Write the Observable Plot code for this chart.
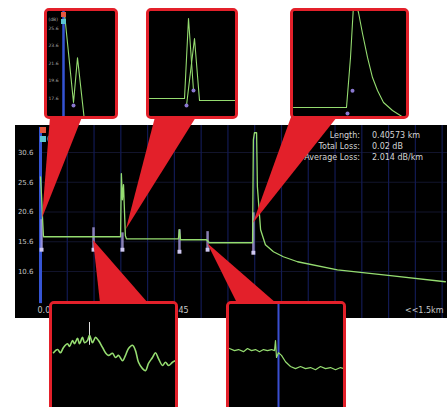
<!DOCTYPE html>
<html><head><meta charset="utf-8">
<script src="https://cdn.jsdelivr.net/npm/d3@7"></script>
<script src="https://cdn.jsdelivr.net/npm/@observablehq/plot@0.6"></script>
<style>
html,body{margin:0;padding:0;background:#fff;}
#root{position:relative;width:447px;height:407px;overflow:hidden;background:#fff;font-family:"DejaVu Sans",sans-serif;}
.inset{position:absolute;box-sizing:border-box;border:3px solid #e3202a;border-radius:5px;background:#000;overflow:hidden;z-index:3;}
.inset svg{display:block;}
.txt{position:absolute;color:#d4d4d4;font-size:8px;line-height:11px;z-index:1;white-space:nowrap;}
.sq{position:absolute;z-index:4;}
</style></head>
<body><div id="root"></div>
<script>
// ---------------- data ----------------
// main OTDR trace: distance (km) and level (dB)
const traceKm = [0.000,0.0037,0.0075,0.0112,0.295,0.299,0.302,0.306,0.310,0.317,0.321,0.515,0.519,0.523,0.620,0.631,0.792,0.795,0.799,0.807,0.810,0.822,0.840,0.870,0.907,0.960,1.109,1.307,1.512];
const traceDb = [26.52,23.50,19.63,16.44,16.44,16.44,27.03,22.66,25.18,16.61,16.10,16.10,17.62,15.94,15.94,15.43,15.43,32.74,33.92,33.92,24.84,17.62,15.10,13.92,13.08,12.24,10.89,9.89,8.88];
// event markers
const eventKm = [0.004, 0.198, 0.306, 0.519, 0.624, 0.795];
const eventTopDb = [19.3, 17.95, 17.1, 17.62, 17.3, 20.47];
const eventBottomDb = [14.26, 14.26, 14.26, 13.92, 14.26, 13.75];
// axes
const yTicks = [10.6, 15.6, 20.6, 25.6, 30.6];
const gridKm = [0.1,0.2,0.3,0.4,0.5,0.6,0.7,0.8,0.9,1.0,1.1,1.2,1.3,1.4,1.5];
const xLabelKm = [0, 0.553];
const xLabelText = ["0.0", "0.545"];
const rangeText = "<<1.5km";
// summary
const summaryLabels = ["Length:", "Total Loss:", "Average Loss:"];
const summaryValues = ["0.40573 km", "0.02 dB", "2.014 dB/km"];

// inset 1: launch (metres, dB)
const in1M = [1, 10, 14, 21];
const in1Db = [27.3, 17.1, 22.2, 15.0];
const in1Ticks = [17.6, 19.6, 21.6, 23.6, 25.6];
const in1DotM = [10];
const in1DotDb = [16.76];
// inset 2: double reflection (two overlaid traces)
const in2M = [0, 35, 39, 44, 37, 45, 50, 86];
const in2Db = [17.23, 17.23, 27.13, 18.22, 16.36, 24.66, 16.99, 16.99];
const in2Series = ["a","a","a","a","b","b","b","b"];
const in2DotM = [37, 44];
const in2DotDb = [16.36, 18.22];
// inset 3: fiber end reflection
const in3M = [0, 53, 57, 60, 63, 65, 69, 74, 79, 84, 90, 99, 110, 113];
const in3Db = [14.06, 14.06, 25.5, 37.4, 37.4, 35.77, 30.97, 25.49, 20.91, 17.94, 15.2, 13.37, 11.77, 11.5];
const in3DotM = [59, 54];
const in3DotDb = [17.9, 12.7];
// bottom inset 1: noisy section
const b1M = [1,5,8,11,15,17,20,22,25,27,30,32,35,37,40,43,46,50,53,56,60,63,66,70,73,76,80,83,86,90,93,96,100,103,106,110,113,116,120,123];
const b1Db = [16.09,16.15,16.09,16.19,16.26,16.21,16.32,16.26,16.36,16.26,16.38,16.28,16.32,16.42,16.28,16.38,16.32,16.19,16.09,16.04,16.08,16.00,16.04,15.94,16.04,16.17,16.23,16.13,15.91,15.79,15.75,15.89,16.00,16.09,15.98,15.85,15.91,15.85,15.91,15.94];
const b1EventM = [37];
const b1EventTop = [16.66];
const b1EventBottom = [16.23];
// bottom inset 2: non-reflective loss step
const b2M = [0,5,9,14,18,22,26,30,34,38,42,45,46,47,49,52,56,61,66,71,76,81,86,91,96,101,106,111,114];
const b2Db = [15.77,15.73,15.75,15.71,15.77,15.73,15.75,15.71,15.75,15.73,15.75,15.73,15.92,15.60,15.69,15.64,15.52,15.43,15.39,15.43,15.39,15.41,15.37,15.43,15.39,15.41,15.37,15.41,15.39];
const b2CursorM = [49];

// ---------------- styles / layout ----------------
const RED = "#e3202a";
const GREEN = "#95dc70";
const AXISBLUE = "#3554d4";
const GRIDBLUE = "#121a52";
const EVENT = "#a99de0";
const FONT = "DejaVu Sans, sans-serif";
const MAIN = {left: 15, top: 125, width: 432, height: 193};
const BOX = {
  t1: {left: 44, top: 8, w: 74, h: 111},
  t2: {left: 146, top: 8, w: 92, h: 111},
  t3: {left: 290, top: 8, w: 119, h: 111},
  b1: {left: 49, top: 301, w: 129, h: 112},
  b2: {left: 226, top: 301, w: 120, h: 112}
};

const root = document.getElementById("root");
const zip = (xs, ys, extra) => xs.map((x, i) => Object.assign({x, y: ys[i]}, extra ? extra(i) : {}));

// ---------------- main chart ----------------
const trace = zip(traceKm, traceDb);
const events = eventKm.map((k, i) => ({km: k, top: eventTopDb[i], bottom: eventBottomDb[i]}));
const xLabels = xLabelKm.map((k, i) => ({km: k, text: xLabelText[i]}));

const main = Plot.plot({
  width: MAIN.width, height: MAIN.height,
  marginLeft: 25, marginRight: 0, marginTop: 0, marginBottom: 0,
  style: {background: "#000", color: "#c8c8c8", fontFamily: FONT, fontSize: "7px", overflow: "visible"},
  x: {domain: [0, 1.52], axis: null},
  y: {domain: [2.7, 35.14], axis: null},
  marks: [
    Plot.ruleY(yTicks, {stroke: "#12142c", strokeWidth: 1}),
    Plot.ruleX(gridKm, {stroke: GRIDBLUE, strokeWidth: 1.2}),
    Plot.ruleX([0], {y1: 5.2, y2: 34.8, stroke: AXISBLUE, strokeWidth: 3}),
    Plot.ruleX(events, {x: "km", y1: "bottom", y2: "top", stroke: EVENT, strokeWidth: 2.5, strokeOpacity: 0.8}),
    Plot.dot(events, {x: "km", y: "bottom", symbol: "square", r: 2.2, fill: "#cfc8f0", stroke: null}),
    Plot.line(trace, {x: "x", y: "y", stroke: GREEN, strokeWidth: 1.3}),
    Plot.axisY(yTicks, {anchor: "left", tickSize: 0, tickPadding: 7, fill: "#c0c0c0", fontSize: 7, tickFormat: d => d.toFixed(1)}),
    Plot.text(["(dB)"], {frameAnchor: "top-left", textAnchor: "end", dx: 21, dy: 11, fill: "#c0c0c0", fontSize: 7}),
    Plot.text(xLabels.slice(0, 1), {x: "km", text: "text", frameAnchor: "bottom", dy: -6, dx: -3, textAnchor: "start", fill: "#c8c8c8", fontSize: 8}),
    Plot.text(xLabels.slice(1), {x: "km", text: "text", frameAnchor: "bottom", dy: -6, textAnchor: "end", fill: "#c8c8c8", fontSize: 8}),
    Plot.text([rangeText], {frameAnchor: "bottom-right", dx: -4, dy: -6, textAnchor: "end", fill: "#c8c8c8", fontSize: 8})
  ]
});
Object.assign(main.style, {position: "absolute", left: MAIN.left + "px", top: MAIN.top + "px", zIndex: 1});
root.appendChild(main);

// summary text
function addText(html, left, top, align, width) {
  const d = document.createElement("div");
  d.className = "txt";
  d.innerHTML = html;
  Object.assign(d.style, {left: left + "px", top: top + "px", textAlign: align, width: width + "px"});
  root.appendChild(d);
}
addText(summaryLabels.join("<br>"), 250, 130, "right", 110);
addText(summaryValues.join("<br>"), 372, 130, "left", 75);

// colour squares (trace selectors)
function addSquare(left, top, size, color) {
  const d = document.createElement("div");
  d.className = "sq";
  Object.assign(d.style, {left: left + "px", top: top + "px", width: size + "px", height: size + "px", background: color});
  root.appendChild(d);
}
addSquare(40, 127, 6, "#e4563e");
addSquare(40, 136, 6, "#5cc6d2");

// ---------------- callouts ----------------
const sx = main.scale("x"), sy = main.scale("y");
const callouts = [
  {box: BOX.t1, km: 0.0075, db: 19.51, side: "top", l: 50, r: 82},
  {box: BOX.t2, km: 0.321, db: 17.66, side: "top", l: 155, r: 196},
  {box: BOX.t3, km: 0.795, db: 18.67, side: "top", l: 291, r: 337},
  {box: BOX.b1, km: 0.198, db: 15.81, side: "bottom", l: 100, r: 148},
  {box: BOX.b2, km: 0.624, db: 15.31, side: "bottom", l: 237, r: 276}
];
const csvg = d3.create("svg").attr("width", 447).attr("height", 407)
  .style("position", "absolute").style("left", "0px").style("top", "0px").style("z-index", 2);
csvg.selectAll("polygon").data(callouts).join("polygon")
  .attr("fill", RED)
  .attr("points", d => {
    const tx = MAIN.left + sx.apply(d.km), ty = MAIN.top + sy.apply(d.db);
    const by = d.side === "top" ? d.box.top + d.box.h - 2 : d.box.top + 2;
    return `${d.l},${by} ${d.r},${by} ${tx},${ty}`;
  });
root.appendChild(csvg.node());

// ---------------- insets ----------------
function makeInset(box, xDomain, yDomain, marks) {
  const div = document.createElement("div");
  div.className = "inset";
  Object.assign(div.style, {left: box.left + "px", top: box.top + "px", width: box.w + "px", height: box.h + "px"});
  const p = Plot.plot({
    width: box.w - 6, height: box.h - 6, margin: 0,
    style: {background: "#000", fontFamily: FONT, color: "#aaa"},
    x: {domain: xDomain, axis: null}, y: {domain: yDomain, axis: null},
    marks
  });
  div.appendChild(p);
  root.appendChild(div);
  return p;
}

makeInset(BOX.t1, [-16, 52], [15.5, 27.5], [
  Plot.ruleX([0], {stroke: AXISBLUE, strokeWidth: 2.5}),
  Plot.text(in1Ticks, {y: d => d, text: d => d.toFixed(1), frameAnchor: "left", dx: 1, textAnchor: "start", fill: "#a8a8a8", fontSize: 4.5}),
  Plot.text(["(dB)"], {frameAnchor: "top-left", dx: 1, dy: 6, textAnchor: "start", fill: "#a8a8a8", fontSize: 4.5}),
  Plot.line(zip(in1M, in1Db), {x: "x", y: "y", stroke: GREEN, strokeWidth: 1.1}),
  Plot.dot(zip(in1DotM, in1DotDb), {x: "x", y: "y", r: 2, fill: "#8a78d0"})
]);
addSquare(61, 12, 5, "#e4563e");
addSquare(61, 19, 5, "#5cc6d2");

makeInset(BOX.t2, [0, 86], [15, 28], [
  Plot.line(zip(in2M, in2Db, i => ({s: in2Series[i]})), {x: "x", y: "y", z: "s", stroke: GREEN, strokeWidth: 1.1}),
  Plot.dot(zip(in2DotM, in2DotDb), {x: "x", y: "y", r: 2, fill: "#8a78d0"})
]);

makeInset(BOX.t3, [0, 113], [12, 36], [
  Plot.line(zip(in3M, in3Db), {x: "x", y: "y", stroke: GREEN, strokeWidth: 1.1}),
  Plot.dot(zip(in3DotM, in3DotDb), {x: "x", y: "y", r: 2, fill: "#8a78d0"})
]);

makeInset(BOX.b1, [0, 123], [15.0, 17.0], [
  Plot.ruleX(b1EventM.map((m, i) => ({m, t: b1EventTop[i], b: b1EventBottom[i]})), {x: "m", y1: "b", y2: "t", stroke: "#e0e0e0", strokeWidth: 1}),
  Plot.line(zip(b1M, b1Db), {x: "x", y: "y", stroke: GREEN, strokeWidth: 1.6, curve: "catmull-rom"})
]);

makeInset(BOX.b2, [0, 114], [14.6, 16.6], [
  Plot.ruleX(b2CursorM, {stroke: "#3a4fd0", strokeWidth: 2}),
  Plot.line(zip(b2M, b2Db), {x: "x", y: "y", stroke: GREEN, strokeWidth: 1.2})
]);
</script>
</body></html>
